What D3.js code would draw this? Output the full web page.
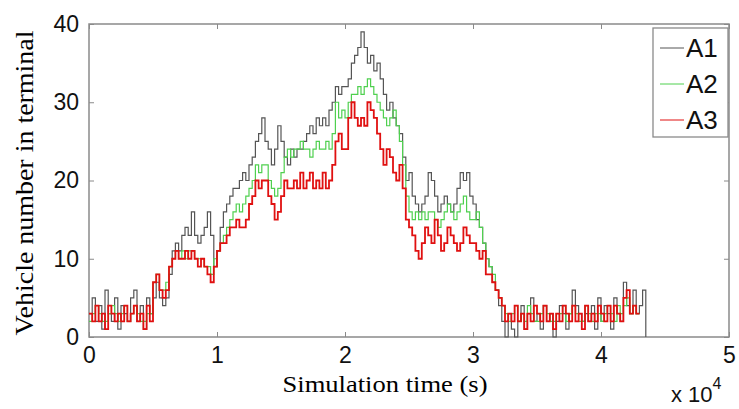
<!DOCTYPE html>
<html>
<head>
<meta charset="utf-8">
<script src="https://cdn.jsdelivr.net/npm/d3@7"></script>
<style>
  body { margin: 0; background: #fff; }
  svg { display: block; }
</style>
</head>
<body>
<svg id="chart"></svg>
<script>
let width = 739;
let height = 409;

// sampling interval of the step series, seconds
let step = 250;

let seriesNames = ["A1", "A2", "A3"];
let seriesColors = ["#555555", "#4fd04f", "#e01010"];

let xTicks = [0, 10000, 20000, 30000, 40000, 50000];
let xTickLabels = ["0", "1", "2", "3", "4", "5"];
let yTicks = [0, 10, 20, 30, 40];

// vehicles in terminal, one value every 250 s
let a1 = [
  3, 5, 2, 4, 1, 6, 3, 2, 5, 1, 4, 3, 2, 5, 6, 2, 4, 1, 5, 3,
  5, 7, 5, 4, 5, 8, 11, 12, 11, 13, 14, 13, 16, 13, 12, 13, 14, 16, 13, 9,
  11, 14, 16, 17, 18, 19, 19, 20, 21, 20, 22, 23, 25, 26, 28, 25, 24, 22, 24, 27,
  25, 23, 22, 24, 23, 24, 24, 25, 26, 27, 26, 28, 27, 28, 27, 29, 30, 32, 31, 32,
  32, 33, 35, 36, 37, 39, 37, 35, 36, 34, 35, 33, 31, 29, 30, 28, 27, 26, 23, 20,
  21, 18, 17, 16, 17, 18, 21, 20, 18, 16, 17, 18, 17, 16, 17, 19, 21, 20, 21, 18,
  17, 15, 14, 12, 10, 9, 7, 6, 4, 2, 0, 3, 1, 0, 2, 4, 1, 3, 5, 2,
  3, 1, 4, 2, 3, 0, 2, 4, 3, 1, 3, 6, 4, 3, 2, 3, 2, 4, 1, 5,
  2, 4, 3, 1, 5, 3, 2, 7, 4, 3, 6, 3, 4, 6, 0
];

let a2 = [
  2, 3, 4, 3, 2, 2, 3, 4, 3, 2, 3, 4, 2, 3, 4, 3, 2, 2, 3, 3,
  7, 8, 6, 6, 7, 9, 10, 11, 10, 11, 10, 11, 11, 10, 10, 10, 9, 9, 8, 10,
  11, 12, 13, 14, 15, 16, 17, 16, 17, 18, 19, 20, 22, 21, 22, 22, 20, 19, 18, 19,
  21, 23, 24, 23, 24, 24, 25, 24, 24, 23, 24, 25, 24, 24, 25, 24, 26, 30, 28, 29,
  28, 30, 31, 31, 32, 31, 32, 33, 32, 31, 30, 29, 28, 27, 28, 29, 27, 25, 22, 18,
  16, 15, 16, 15, 16, 15, 16, 16, 15, 14, 15, 16, 17, 16, 15, 16, 17, 18, 16, 15,
  15, 16, 14, 12, 10, 9, 8, 6, 5, 4, 3, 2, 3, 4, 2, 3, 2, 4, 3, 2,
  2, 3, 4, 3, 2, 2, 3, 3, 4, 2, 3, 4, 3, 2, 2, 4, 3, 2, 3, 3,
  2, 3, 4, 3, 2, 4, 3, 4, 5, 3, 4, 3, 3, null, null
];

let a3 = [
  3, 2, 4, 2, 3, 1, 4, 3, 2, 3, 2, 4, 2, 3, 4, 2, 3, 1, 4, 2,
  7, 8, 6, 5, 6, 9, 10, 11, 10, 10, 11, 10, 11, 10, 9, 10, 9, 8, 7, 9,
  11, 12, 12, 13, 14, 14, 15, 14, 14, 15, 17, 18, 20, 19, 20, 20, 18, 17, 15, 16,
  18, 20, 19, 19, 20, 19, 21, 19, 20, 21, 19, 20, 19, 21, 19, 20, 22, 25, 26, 24,
  24, 28, 30, 28, 27, 28, 27, 30, 29, 28, 26, 24, 22, 24, 23, 21, 20, 22, 19, 15,
  14, 13, 11, 10, 12, 14, 13, 12, 15, 13, 11, 12, 14, 13, 12, 11, 12, 14, 13, 12,
  12, 11, 10, 11, 8, 8, 7, 6, 5, 4, 2, 3, 2, 4, 2, 3, 1, 3, 2, 4,
  3, 2, 4, 2, 3, 1, 3, 2, 4, 3, 2, 4, 2, 3, 1, 4, 2, 3, 2, 4,
  3, 2, 4, 2, 4, 3, 2, 5, 6, 3, 4, 3, 3, null, null
];

let allSeries = [a1, a2, a3];
let times = d3.range(a1.length).map((i) => i * step);

let svg = d3.select("#chart")
  .attr("width", width)
  .attr("height", height);

let xScale = d3.scaleLinear().domain([0, 50000]).range([89, 729]);
let yScale = d3.scaleLinear().domain([0, 40]).range([337, 24]);

let axisColor = "#8a8a8a";

// plot box
svg.append("rect")
  .attr("x", xScale(0))
  .attr("y", yScale(40))
  .attr("width", xScale(50000) - xScale(0))
  .attr("height", yScale(0) - yScale(40))
  .attr("fill", "none")
  .attr("stroke", axisColor)
  .attr("stroke-width", 1.5);

let styleAxis = (g) => {
  g.select(".domain").remove();
  g.selectAll(".tick line").attr("stroke", axisColor).attr("stroke-width", 1);
  g.selectAll(".tick text")
    .attr("fill", "#111")
    .style("font-family", "'Liberation Sans', Arial, sans-serif")
    .style("font-size", "23px");
};

svg.append("g")
  .attr("transform", "translate(0," + yScale(0) + ")")
  .call(d3.axisBottom(xScale).tickValues(xTicks)
    .tickFormat((d, i) => xTickLabels[i]).tickSizeInner(-5).tickPadding(10))
  .call(styleAxis);

svg.append("g")
  .attr("transform", "translate(0," + yScale(40) + ")")
  .call(d3.axisTop(xScale).tickValues(xTicks).tickFormat("").tickSizeInner(-5))
  .call(styleAxis);

svg.append("g")
  .attr("transform", "translate(" + xScale(0) + ",0)")
  .call(d3.axisLeft(yScale).tickValues(yTicks).tickSizeInner(-5).tickPadding(10))
  .call(styleAxis);

svg.append("g")
  .attr("transform", "translate(" + xScale(50000) + ",0)")
  .call(d3.axisRight(yScale).tickValues(yTicks).tickFormat("").tickSizeInner(-5))
  .call(styleAxis);

// step lines
let line = d3.line()
  .defined((d) => d[1] != null)
  .x((d) => xScale(d[0]))
  .y((d) => yScale(d[1]))
  .curve(d3.curveStepAfter);

allSeries.forEach((s, k) => {
  svg.append("path")
    .datum(times.map((t, i) => [t, s[i]]))
    .attr("d", line)
    .attr("fill", "none")
    .attr("stroke", seriesColors[k])
    .attr("stroke-width", k == 2 ? 1.8 : 1.2);
});

// axis titles
svg.append("text")
  .attr("x", 385)
  .attr("y", 392)
  .attr("text-anchor", "middle")
  .attr("textLength", 205)
  .attr("lengthAdjust", "spacingAndGlyphs")
  .style("font-family", "'Liberation Serif', 'Times New Roman', serif")
  .style("font-size", "23px")
  .text("Simulation time (s)");

svg.append("text")
  .attr("transform", "translate(33,183) rotate(-90)")
  .attr("text-anchor", "middle")
  .attr("textLength", 305)
  .attr("lengthAdjust", "spacingAndGlyphs")
  .style("font-family", "'Liberation Serif', 'Times New Roman', serif")
  .style("font-size", "25px")
  .text("Vehicle number in terminal");

// exponent label
let expo = svg.append("text")
  .attr("x", 671)
  .attr("y", 402)
  .style("font-family", "'Liberation Sans', Arial, sans-serif")
  .style("font-size", "22px")
  .attr("fill", "#111");
expo.append("tspan").text("x 10");
expo.append("tspan").attr("dy", -13).style("font-size", "16px").text("4");

// legend
let legend = svg.append("g");
legend.append("rect")
  .attr("x", 653)
  .attr("y", 28)
  .attr("width", 75)
  .attr("height", 109)
  .attr("fill", "#fff")
  .attr("stroke", axisColor)
  .attr("stroke-width", 1.3);

seriesNames.forEach((name, k) => {
  let cy = 48 + k * 36;
  legend.append("line")
    .attr("x1", 660).attr("x2", 684)
    .attr("y1", cy).attr("y2", cy)
    .attr("stroke", seriesColors[k])
    .attr("stroke-width", 1);
  legend.append("text")
    .attr("x", 686)
    .attr("y", cy)
    .attr("dy", "0.36em")
    .attr("fill", "#111")
    .style("font-family", "'Liberation Sans', Arial, sans-serif")
    .style("font-size", "26px")
    .text(name);
});
</script>
</body>
</html>
